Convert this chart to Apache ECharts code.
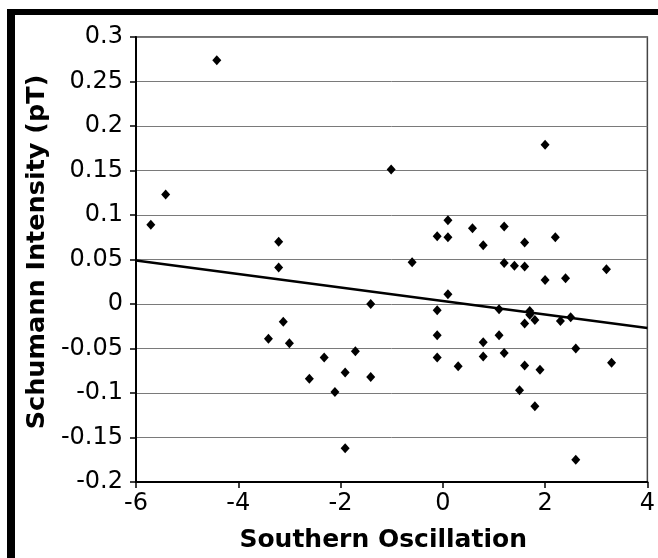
<!DOCTYPE html>
<html>
<head>
<meta charset="utf-8">
<script src="https://cdn.jsdelivr.net/npm/echarts@6/dist/echarts.min.js"></script>
<style>
html,body{margin:0;padding:0;background:#fff;}
#chart{width:658px;height:558px;}
</style>
</head>
<body>
<div id="chart"></div>
<script>
// Southern Oscillation index (x) and Schumann intensity (y)
var soi = [-5.71,-5.42,-4.42,-3.21,-3.21,-3.41,-3.12,-3.00,-2.61,-2.32,-2.11,-1.91,-1.91,-1.71,-1.41,-1.41,-1.01,-0.60,
  -0.11,-0.11,-0.11,-0.11,0.10,0.10,0.10,0.30,0.58,0.79,0.79,0.79,1.10,1.10,1.20,1.20,1.20,1.40,1.50,
  1.60,1.60,1.60,1.60,1.70,1.70,1.80,1.80,1.90,2.00,2.00,2.20,2.30,2.40,2.50,2.60,2.60,3.20,3.30];
var schumann = [0.089,0.123,0.274,0.070,0.041,-0.039,-0.020,-0.044,-0.084,-0.060,-0.099,-0.077,-0.162,-0.053,0.000,-0.082,0.151,0.047,
  0.076,-0.007,-0.035,-0.060,0.094,0.075,0.011,-0.070,0.085,0.066,-0.043,-0.059,-0.006,-0.035,0.087,0.046,-0.055,0.043,-0.097,
  0.069,0.042,-0.022,-0.069,-0.008,-0.012,-0.018,-0.115,-0.074,0.179,0.027,0.075,-0.019,0.029,-0.015,-0.050,-0.175,0.039,-0.066];
// trend line end points
var trendX = [-6, 4];
var trendY = [0.049, -0.027];

var xTitle = 'Southern Oscillation';
var yTitle = 'Schumann Intensity (pT)';

var pts = soi.map(function(x, i){ return [x, schumann[i]]; });
var trend = trendX.map(function(x, i){ return [x, trendY[i]]; });

var chart = echarts.init(document.getElementById('chart'), null, {renderer:'canvas'});
var font = 'DejaVu Sans';
chart.setOption({
  animation: false,
  backgroundColor: '#ffffff',
  grid: {left:136, right:9, top:37, bottom:71, show:true, borderColor:'#444', borderWidth:1.5, backgroundColor:'transparent'},
  xAxis: {
    type:'value', min:-6, max:4, interval:2,
    name: xTitle, nameLocation:'middle', nameGap:46,
    nameTextStyle:{fontFamily:font, fontWeight:'bold', fontSize:25, color:'#000', padding:[0,17,0,0]},
    axisLine:{show:true, onZero:false, lineStyle:{color:'#000', width:2}},
    axisTick:{show:true, length:6, lineStyle:{color:'#000', width:1.5}},
    axisLabel:{fontFamily:font, fontSize:24, color:'#000', margin:10},
    splitLine:{show:false}
  },
  yAxis: {
    type:'value', min:-0.2, max:0.3, interval:0.05,
    name: yTitle, nameLocation:'middle', nameGap:85, nameRotate:90,
    nameTextStyle:{fontFamily:font, fontWeight:'bold', fontSize:25.5, color:'#000', padding:[0,0,0,15]},
    axisLine:{show:true, onZero:false, lineStyle:{color:'#000', width:2}},
    axisTick:{show:true, length:6, lineStyle:{color:'#000', width:1.5}},
    axisLabel:{fontFamily:font, fontSize:24, color:'#000', margin:13},
    splitLine:{show:true, lineStyle:{color:'#7a7a7a', width:1}}
  },
  series: [
    {type:'scatter', data: pts, symbol:'diamond', symbolSize:[9,10], itemStyle:{color:'#000', opacity:1}, z:3},
    {type:'line', data: trend, showSymbol:false, symbol:'none', lineStyle:{color:'#000', width:2.5}, z:2}
  ],
  graphic: [
    {type:'rect', shape:{x:7, y:9, width:8, height:549}, style:{fill:'#000'}, silent:true},
    {type:'rect', shape:{x:7, y:9, width:651, height:6}, style:{fill:'#000'}, silent:true}
  ]
});
</script>
</body>
</html>
